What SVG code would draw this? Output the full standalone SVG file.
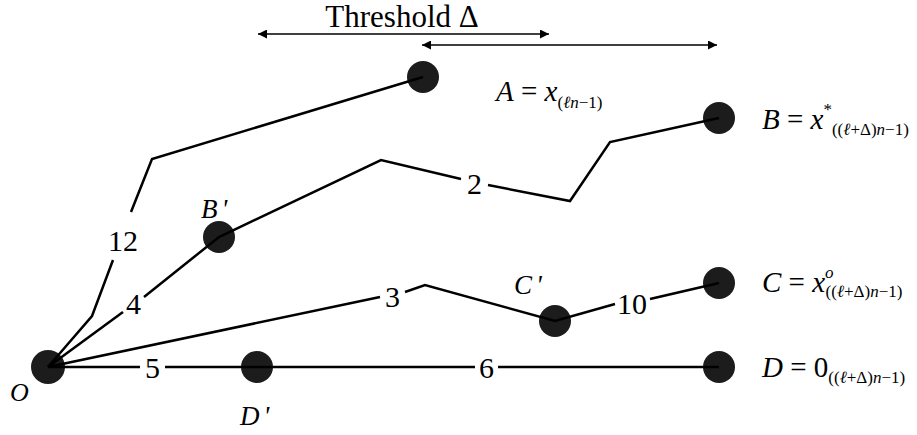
<svg xmlns="http://www.w3.org/2000/svg" width="917" height="435" viewBox="0 0 917 435">
<defs>
<marker id="ah" viewBox="0 0 10 10" refX="10" refY="5" markerWidth="11" markerHeight="9" markerUnits="userSpaceOnUse" orient="auto-start-reverse">
<path d="M0,0 L10,5 L0,10 z" fill="#000"/>
</marker>
</defs>
<rect width="917" height="435" fill="#fff"/>

<g id="threshold">
<text x="402" y="27" font-family="Liberation Serif" font-size="31" text-anchor="middle">Threshold Δ</text>
<g stroke="#000" stroke-width="1.3" fill="none">
<line x1="258" y1="34" x2="549" y2="34" marker-start="url(#ah)" marker-end="url(#ah)"/>
<line x1="422" y1="45" x2="717" y2="45" marker-start="url(#ah)" marker-end="url(#ah)"/>
</g>
</g>

<g fill="#1c1c1c">
<g id="node-O"><circle cx="48" cy="367" r="17"/></g>
<g id="node-A"><circle cx="423" cy="77" r="16"/></g>
<g id="node-B"><circle cx="719" cy="118" r="16"/></g>
<g id="node-Bp"><circle cx="219" cy="237" r="16"/></g>
<g id="node-C"><circle cx="719" cy="283" r="16"/></g>
<g id="node-Cp"><circle cx="555" cy="321" r="16"/></g>
<g id="node-Dp"><circle cx="257" cy="367" r="16"/></g>
<g id="node-D"><circle cx="719" cy="367" r="16"/></g>
</g>

<g id="node-labels" font-family="Liberation Serif" font-size="27" font-style="italic">
<text x="10" y="401" font-size="26">O</text>
<text x="201" y="218">B<tspan dx="4">'</tspan></text>
<text x="514" y="294">C<tspan dx="4">'</tspan></text>
<text x="240" y="425">D<tspan dx="4">'</tspan></text>
</g>

<g id="connectors" fill="none" stroke="#000" stroke-width="2.5">
<polyline points="48,367 92,316 113,260"/>
<polyline points="131,212 152,159 423,77"/>
<polyline points="48,367 123,312"/>
<polyline points="144,297 219,237 381,160 461,179"/>
<polyline points="488,185 570,201 610,142 719,118"/>
<polyline points="48,367 380,297"/>
<polyline points="405,292 425,285 555,321 615,304"/>
<polyline points="650,299 719,283"/>
<polyline points="48,367 140,367"/>
<polyline points="165,367 475,367"/>
<polyline points="498,367 719,367"/>
</g>

<g id="edge-labels" font-family="Liberation Serif" font-size="30">
<text x="108" y="251">12</text>
<text x="126" y="314">4</text>
<text x="467" y="194">2</text>
<text x="385" y="307">3</text>
<text x="617" y="314">10</text>
<text x="145" y="378">5</text>
<text x="479" y="378">6</text>
</g>

<g id="value-labels" font-family="Liberation Serif" font-size="29">
<text x="496" y="101"><tspan font-style="italic">A</tspan> = <tspan font-style="italic">x</tspan><tspan font-size="17" dy="7">(<tspan font-style="italic">ℓn</tspan>−1)</tspan></text>
<text x="762" y="129"><tspan font-style="italic">B</tspan> = <tspan font-style="italic">x</tspan><tspan font-size="17" dy="-14">*</tspan><tspan font-size="17" dy="20">((<tspan font-style="italic">ℓ</tspan>+Δ)<tspan font-style="italic">n</tspan>−1)</tspan></text>
<text x="762" y="292"><tspan font-style="italic">C</tspan> = <tspan font-style="italic">x</tspan><tspan font-style="italic" font-size="17" dy="-14">o</tspan><tspan font-size="17" dx="-8" dy="19">((<tspan font-style="italic">ℓ</tspan>+Δ)<tspan font-style="italic">n</tspan>−1)</tspan></text>
<text x="762" y="377"><tspan font-style="italic">D</tspan> = 0<tspan font-size="17" dy="6">((<tspan font-style="italic">ℓ</tspan>+Δ)<tspan font-style="italic">n</tspan>−1)</tspan></text>
</g>
</svg>
